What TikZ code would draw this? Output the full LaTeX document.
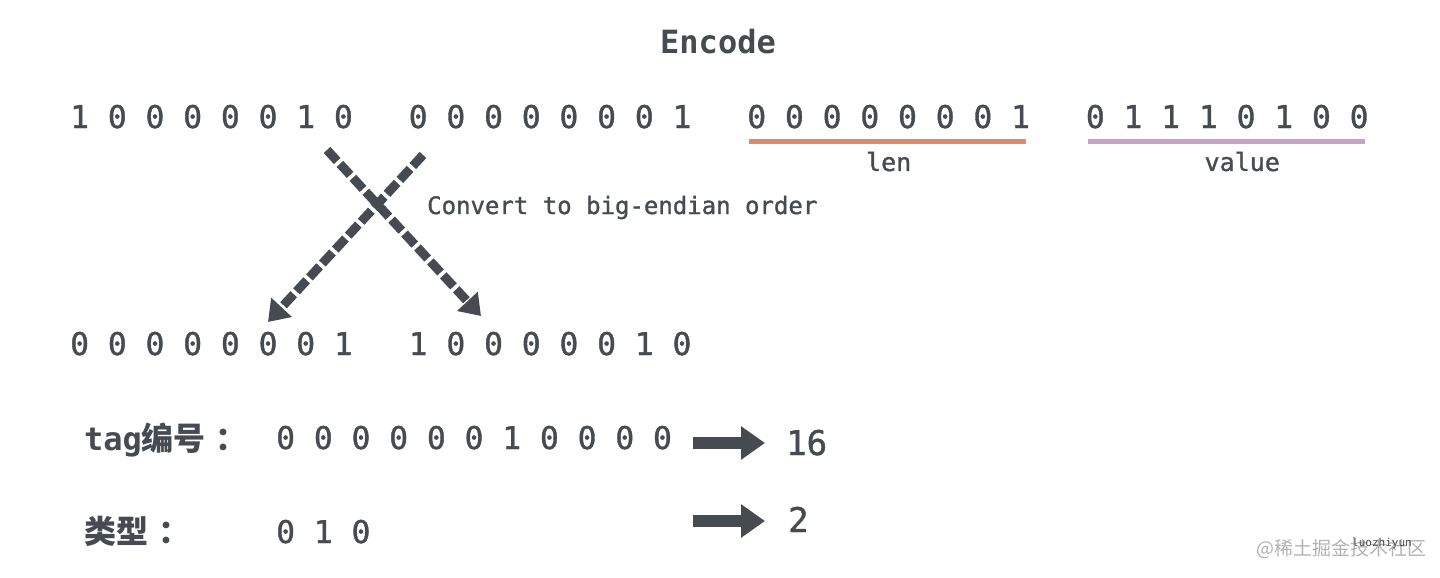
\documentclass[tikz,border=0pt]{standalone}
\usepackage{fontspec}
\setmonofont{DejaVu Sans Mono}
\newfontfamily\medmono{DejaVu Sans Mono}[FakeBold=1.2]
\newfontfamily\cjk{Noto Sans CJK SC}
\usetikzlibrary{positioning}
\usetikzlibrary{arrows.meta}
\definecolor{ink}{HTML}{464A51}
\definecolor{lenorange}{HTML}{E2896A}
\definecolor{valpurple}{HTML}{C9A2C9}

\begin{document}
\begin{tikzpicture}[x=1pt,y=-1pt,node distance=55.5pt,
    bits/.style={inner sep=0pt,text=ink,font=\medmono\fontsize{31.3}{36}\selectfont},
    small text/.style={inner sep=0pt,text=ink,font=\medmono\fontsize{25}{30}\selectfont},
    field label/.style={inner sep=0pt,text=ink,font=\bfseries\fontsize{32}{38}\selectfont},
    swap arrow/.style={draw=ink,line width=9pt,dash pattern=on 15pt off 4pt,
                       -{Triangle[length=20pt,width=27pt]}},
    result arrow/.style={draw=ink,line width=12pt,-{Triangle[length=24pt,width=32pt]}}]
      \useasboundingbox (0,0) rectangle (1440,578);

      \node[field label,font=\ttfamily\bfseries\fontsize{32}{38}\selectfont,anchor=base] (title) at (718,53) {Encode};

      \node[bits,anchor=base west] (b1) at (70,128) {1 0 0 0 0 0 1 0};
      \node[bits] (b2) [right=of b1] {0 0 0 0 0 0 0 1};
      \node[bits] (b3) [right=of b2] {0 0 0 0 0 0 0 1};
      \node[bits] (b4) [right=of b3] {0 1 1 1 0 1 0 0};

      \draw[lenorange,line width=5pt] ([xshift=2pt,yshift=-13pt]b3.south west) -- ([xshift=-4pt,yshift=-13pt]b3.south east);
      \draw[valpurple,line width=5pt] ([xshift=2pt,yshift=-13pt]b4.south west) -- ([xshift=-4pt,yshift=-13pt]b4.south east);
      \node[small text] (len) [below=23pt of b3] {len};
      \node[small text] (value) [below=23pt of b4,xshift=15pt] {value};

      \coordinate (swapA) at (327,150);
      \coordinate (swapB) at (423,155);
      \coordinate (tipA) at (481,316);
      \coordinate (tipB) at (268,322);
      \node[small text,font=\medmono\fontsize{24}{28}\selectfont,anchor=base west] (convert) at (427,214) {Convert to big-endian order};

      \node[bits,anchor=base west] (o1) at (70,355) {0 0 0 0 0 0 0 1};
      \node[bits] (o2) [right=of o1] {1 0 0 0 0 0 1 0};

      \draw[swap arrow] (swapA) -- (tipA);
      \draw[swap arrow] (swapB) -- (tipB);

      \node[field label,anchor=base west] (tag) at (84,450) {\ttfamily tag\cjk 编号\hspace{10pt}：};
      \node[bits,anchor=base west] (tagbits) at (276,449) {0 0 0 0 0 0 1 0 0 0 0};
      \node[field label,anchor=base west] (type) at (84,543) {\cjk 类型\hspace{10pt}：};
      \node[bits,anchor=base west] (typebits) at (276,543) {0 1 0};

      \node[bits,font=\medmono\fontsize{34}{40}\selectfont,anchor=base west] (tagval) at (786,455) {16};
      \node[bits,font=\medmono\fontsize{34}{40}\selectfont,anchor=base west] (typeval) at (788,532) {2};
      \coordinate (tagfrom) at (693,443);
      \coordinate (typefrom) at (693,521);

      \draw[result arrow] (tagfrom) -- (765,443);
      \draw[result arrow] (typefrom) -- (765,521);

      \node[inner sep=0pt,text=black!30,font=\cjk\fontsize{19}{22}\selectfont] (mark) at (1341,549) {@稀土掘金技术社区};
      \node[inner sep=0pt,text=ink,font=\ttfamily\fontsize{11}{13}\selectfont] (author) at (1382,543) {luozhiyun};
\end{tikzpicture}
\end{document}
